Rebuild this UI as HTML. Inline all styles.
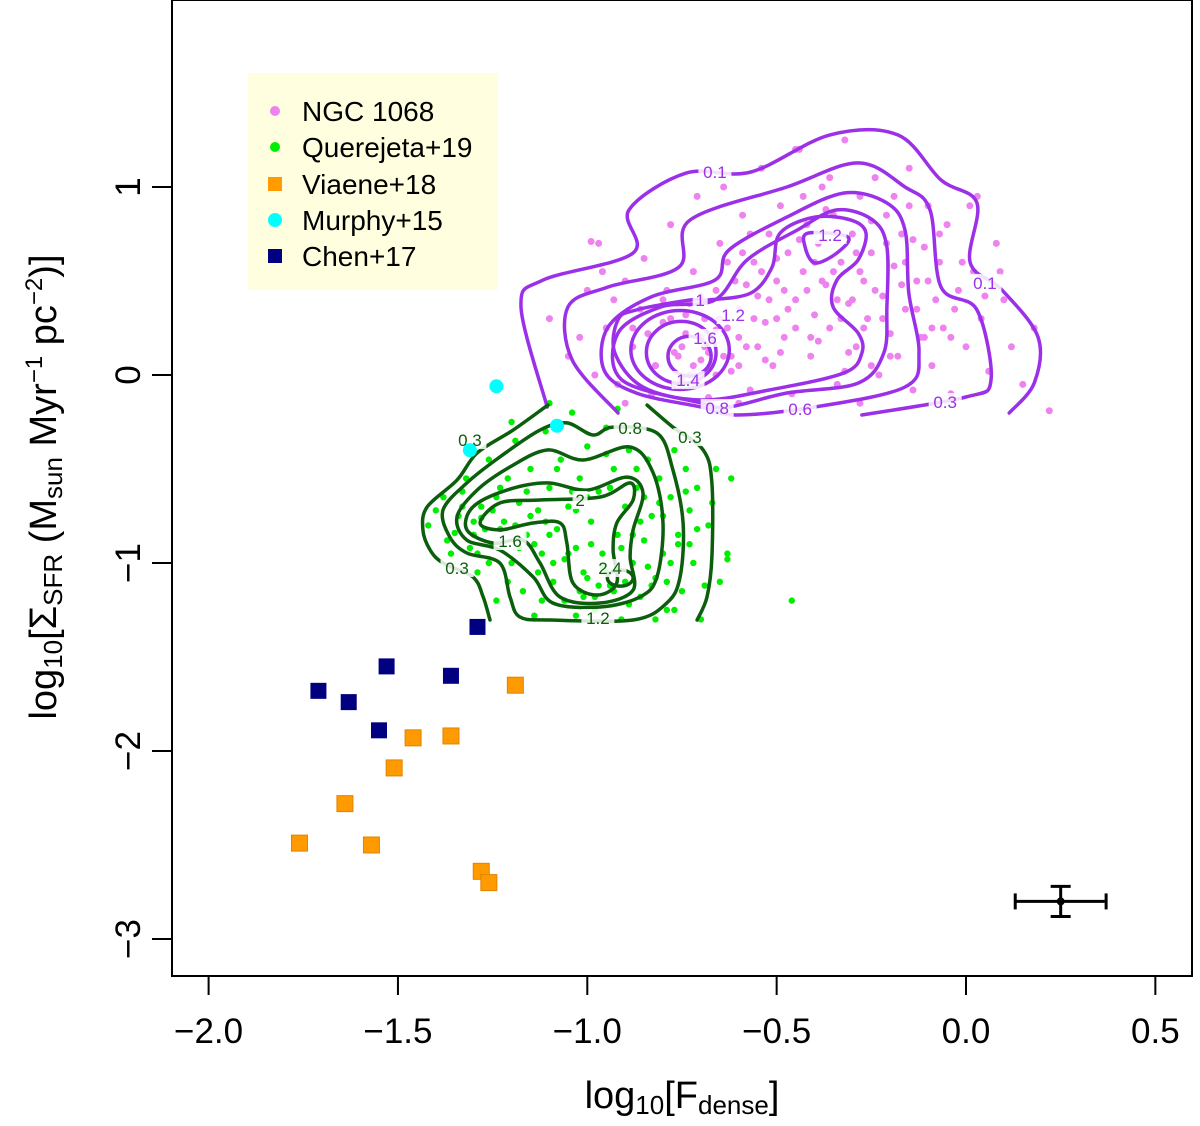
<!DOCTYPE html>
<html><head><meta charset="utf-8"><style>
html,body{margin:0;padding:0;background:#fff;}
svg text{font-family:"Liberation Sans",sans-serif;}
</style></head><body>
<svg id="chart" width="1200" height="1121" viewBox="0 0 1200 1121" xmlns="http://www.w3.org/2000/svg">
<rect x="0" y="0" width="1200" height="1121" fill="#fff"/>
<g id="points"></g>
<g id="contours"></g>
<g id="overlay"></g>
<rect x="172" y="0" width="1020" height="976" fill="none" stroke="#000" stroke-width="2"/>
<g id="axes"></g>
<g>
<rect x="248" y="73" width="250" height="217" fill="#ffffe0"/>
<g><circle cx="275" cy="111" r="5" fill="#ee82ee"/><text x="302" y="121" font-size="28">NGC 1068</text></g>
<g><circle cx="275" cy="147" r="5" fill="#00ee00"/><text x="302" y="157" font-size="28">Querejeta+19</text></g>
<g><rect x="268" y="177" width="14" height="14" fill="#ff9a00"/><text x="302" y="194" font-size="28">Viaene+18</text></g>
<g><circle cx="275" cy="220" r="7" fill="#00ffff"/><text x="302" y="230" font-size="28">Murphy+15</text></g>
<g><rect x="268" y="249" width="14" height="14" fill="#000080"/><text x="302" y="266" font-size="28">Chen+17</text></g>
</g>
<text x="682" y="1108" font-size="38" text-anchor="middle">log<tspan font-size="26" dy="6">10</tspan><tspan dy="-6">[F</tspan><tspan font-size="26" dy="6">dense</tspan><tspan dy="-6">]</tspan></text>
<text transform="translate(56,487) rotate(-90)" font-size="38" text-anchor="middle">log<tspan font-size="26" dy="6">10</tspan><tspan dy="-6">[Σ</tspan><tspan font-size="26" dy="6">SFR</tspan><tspan dy="-6"> (M</tspan><tspan font-size="26" dy="6">sun</tspan><tspan dy="-6"> Myr</tspan><tspan font-size="24" dy="-14">−1</tspan><tspan dy="14"> pc</tspan><tspan font-size="24" dy="-14">−2</tspan><tspan dy="14">)]</tspan></text>
</svg>
<script>
const NS="http://www.w3.org/2000/svg";
const xTicks=[-2.0,-1.5,-1.0,-0.5,0.0,0.5];
const xTickLabels=["−2.0","−1.5","−1.0","−0.5","0.0","0.5"];
const yTicks=[1,0,-1,-2,-3];
const yTickLabels=["1","0","−1","−2","−3"];
const ngcX=[-1.1,-1.05,-1.0,-0.98,-0.95,-0.92,-0.9,-0.88,-0.86,-0.85,-0.83,-0.82,-0.8,-0.79,-0.78,-0.77,-0.75,-0.74,-0.73,-0.72,-0.71,-0.7,-0.69,-0.68,-0.67,-0.66,-0.65,-0.64,-0.63,-0.62,-0.61,-0.6,-0.59,-0.58,-0.57,-0.56,-0.55,-0.54,-0.53,-0.52,-0.51,-0.5,-0.49,-0.48,-0.47,-0.46,-0.45,-0.44,-0.43,-0.42,-0.41,-0.4,-0.39,-0.38,-0.37,-0.36,-0.35,-0.34,-0.33,-0.32,-0.31,-0.3,-0.29,-0.28,-0.27,-0.26,-0.25,-0.24,-0.23,-0.22,-0.21,-0.2,-0.19,-0.18,-0.17,-0.16,-0.15,-0.14,-0.13,-0.12,-0.11,-0.1,-0.09,-0.08,-0.07,-0.06,-0.05,-0.04,-0.02,0.0,0.02,0.04,0.06,0.08,0.1,0.12,0.15,0.18,0.22,-0.97,-0.9,-0.28,-0.6,-0.45,-0.75,-0.7,-0.68,-0.65,-0.72,-0.6,-0.62,-0.55,-0.78,-0.66,-0.4,-0.38,-0.42,-0.35,-0.3,-0.5,-0.45,-0.52,-0.99,0.03,-0.25,-0.15,
-0.84,-0.8,-0.76,-0.74,-0.7,-0.66,-0.63,-0.58,-0.56,-0.53,-0.5,-0.47,-0.44,-0.41,-0.37,-0.34,-0.31,-0.28,-0.25,-0.22,-0.19,-0.16,-0.13,-0.1,-0.07,-0.04,-0.01,0.05,0.09,-0.82,-0.77,-0.73,-0.69,-0.64,-0.59,-0.54,-0.49,-0.43,-0.39,-0.33,-0.29,-0.24,-0.2,-0.14,-0.09,-0.03,0.01,-0.6,-0.57,-0.48,-0.36,-0.32,-0.27,-0.21,-0.17,-0.11,-0.88,-0.93,-1.02,-0.96];
const ngcY=[0.3,0.1,0.45,0.0,0.25,-0.05,0.5,0.15,0.35,0.62,-0.1,0.05,0.28,0.45,0.8,0.12,-0.02,0.22,0.38,0.55,0.95,0.08,0.3,-0.12,0.18,0.45,0.7,1.0,0.25,0.02,0.5,0.35,0.85,0.15,-0.08,0.6,0.42,1.1,0.28,0.75,0.05,0.5,0.9,0.2,0.65,-0.1,0.4,1.2,0.55,0.8,0.1,0.32,0.7,1.0,0.48,0.25,0.85,-0.05,0.6,1.25,0.38,0.75,0.15,0.95,0.5,0.3,0.65,1.05,0.0,0.42,0.85,0.22,0.58,0.1,0.75,0.35,1.1,-0.08,0.5,0.2,0.68,0.9,0.05,0.4,0.6,0.25,0.8,-0.1,0.45,0.15,0.55,0.3,0.02,0.7,0.4,0.15,-0.05,0.25,-0.19,0.7,-0.15,-0.15,-0.15,1.2,0.15,0.2,0.12,0.3,0.05,0.2,0.1,0.15,0.3,0.0,0.6,0.5,0.45,0.55,0.4,0.3,0.25,0.4,0.71,0.95,0.05,0.9,
0.22,0.4,0.1,0.32,0.42,0.24,0.6,0.48,0.3,0.08,0.62,0.35,0.72,0.2,0.88,0.4,0.12,0.55,0.82,0.3,0.95,0.6,0.35,0.5,0.75,0.2,0.6,0.42,0.55,0.05,-0.05,0.0,0.15,0.1,0.65,0.55,0.12,0.95,0.18,0.3,0.65,0.45,0.1,0.72,0.25,0.35,0.9,0.05,0.75,0.45,1.05,0.02,0.25,0.7,0.48,0.2,0.25,0.4,0.2,0.55];
const querX=[-1.42,-1.38,-1.36,-1.34,-1.32,-1.3,-1.29,-1.28,-1.26,-1.25,-1.24,-1.23,-1.22,-1.2,-1.19,-1.18,-1.17,-1.16,-1.15,-1.14,-1.13,-1.12,-1.11,-1.1,-1.09,-1.08,-1.07,-1.06,-1.05,-1.04,-1.03,-1.02,-1.01,-1.0,-0.99,-0.98,-0.97,-0.96,-0.95,-0.94,-0.93,-0.92,-0.91,-0.9,-0.89,-0.88,-0.87,-0.86,-0.85,-0.84,-0.83,-0.82,-0.81,-0.8,-0.79,-0.78,-0.77,-0.76,-0.75,-0.74,-0.73,-0.72,-0.71,-0.7,-0.68,-0.66,-0.65,-0.63,-0.62,-0.46,-1.1,-1.2,-0.92,-1.3,-1.27,-1.33,-1.25,-1.0,-0.97,-0.95,-1.02,-0.9,-1.05,-1.15,-1.1,-0.85,-0.8,-1.0,-0.63,
-1.4,-1.37,-1.33,-1.31,-1.28,-1.26,-1.23,-1.21,-1.18,-1.16,-1.13,-1.11,-1.08,-1.06,-1.03,-1.01,-0.99,-0.96,-0.94,-0.91,-0.89,-0.86,-0.84,-0.81,-0.79,-0.76,-0.74,-0.71,-0.69,-0.67,-1.35,-1.29,-1.24,-1.19,-1.14,-1.09,-1.04,-0.98,-0.93,-0.88,-0.83,-0.78,-0.73,-1.21,-1.12,-1.03,-0.95,-0.87,-0.82,-0.77];
const querY=[-0.8,-0.65,-0.95,-0.75,-0.55,-0.85,-1.05,-0.7,-0.45,-0.9,-1.2,-0.6,-0.78,-1.0,-0.35,-0.68,-1.15,-0.85,-0.5,-1.28,-0.72,-0.95,-0.3,-0.6,-1.1,-0.82,-0.45,-1.2,-0.7,-0.2,-0.92,-0.55,-1.05,-0.38,-0.78,-1.25,-0.62,-0.95,-0.28,-1.12,-0.5,-0.85,-1.3,-0.7,-0.4,-1.0,-0.6,-1.18,-0.88,-0.45,-0.75,-1.08,-0.55,-0.95,-1.25,-0.65,-0.4,-0.85,-1.15,-0.5,-0.72,-1.0,-0.6,-1.3,-0.8,-0.5,-1.1,-0.95,-0.55,-1.2,-0.15,-0.25,-0.18,-0.78,-0.82,-0.7,-0.72,-1.08,-1.12,-1.05,-1.15,-1.1,-0.95,-0.75,-0.85,-0.65,-0.75,-0.65,-0.98,
-0.72,-0.88,-0.62,-0.92,-0.76,-1.0,-0.82,-0.55,-0.92,-0.62,-1.05,-0.78,-0.5,-0.98,-0.72,-1.18,-0.9,-1.02,-0.6,-0.92,-1.22,-0.78,-1.02,-0.68,-1.1,-0.9,-0.62,-0.82,-1.12,-0.68,-0.84,-0.95,-0.65,-0.8,-0.9,-1.0,-0.62,-1.18,-1.15,-0.85,-1.12,-1.0,-0.9,-1.1,-1.2,-1.28,-0.42,-0.5,-1.3,-1.25];
const murphyX=[-1.24,-1.08,-1.31];
const murphyY=[-0.06,-0.27,-0.40];
const chenX=[-1.29,-1.53,-1.36,-1.71,-1.63,-1.55];
const chenY=[-1.34,-1.55,-1.60,-1.68,-1.74,-1.89];
const viaeneX=[-1.19,-1.46,-1.36,-1.51,-1.64,-1.76,-1.57,-1.28,-1.26];
const viaeneY=[-1.65,-1.93,-1.92,-2.09,-2.28,-2.49,-2.50,-2.64,-2.70];

// NGC 1068 density contours (data coords)
const ngc01X=[-1.106,-1.175,-1.117,-0.879,-0.890,-0.739,-0.568,-0.359,-0.180,-0.066,0.029,0.011,0.095,0.190,0.180,0.114];
const ngc01Y=[-0.170,0.362,0.505,0.649,0.878,1.074,1.080,1.277,1.277,1.037,0.915,0.598,0.452,0.202,-0.043,-0.202];
const ngc03X=[-0.919,-1.040,-1.051,-0.945,-0.758,-0.729,-0.473,-0.285,-0.161,-0.095,-0.066,0.029,0.066,0.0,-0.275];
const ngc03Y=[-0.202,0.080,0.362,0.468,0.574,0.824,1.000,1.128,1.000,0.878,0.468,0.346,-0.027,-0.117,-0.213];
const ngc06X=[-0.956,-0.945,-0.832,-0.663,-0.626,-0.473,-0.322,-0.209,-0.161,-0.151,-0.124,-0.161,-0.399,-0.605,-0.700,-0.871];
const ngc06Y=[0.027,0.255,0.415,0.505,0.665,0.840,0.968,0.915,0.771,0.436,0.117,-0.064,-0.170,-0.213,-0.170,-0.096];
const ngc08X=[-0.700,-0.908,-0.919,-0.805,-0.663,-0.578,-0.446,-0.341,-0.246,-0.209,-0.209,-0.217,-0.285,-0.473,-0.626];
const ngc08Y=[-0.149,-0.027,0.223,0.362,0.399,0.612,0.771,0.878,0.824,0.681,0.362,0.117,-0.043,-0.096,-0.170];
const ngc10X=[-0.681,-0.568,-0.512,-0.491,-0.399,-0.304,-0.264,-0.285,-0.341,-0.351,-0.285,-0.275,-0.322,-0.520,-0.700,-0.853,-0.927,-0.919,-0.871,-0.729];
const ngc10Y=[0.399,0.436,0.574,0.755,0.840,0.824,0.755,0.612,0.505,0.362,0.223,0.117,0.011,-0.080,-0.133,-0.064,0.117,0.293,0.346,0.399];
const ngcPeakX=[-0.417,-0.425,-0.399,-0.341,-0.312];
const ngcPeakY=[0.755,0.681,0.596,0.649,0.734];
const ngcCoreLevels=[1.2,1.4,1.6];
const ngcCoreCx=[-0.755,-0.752,-0.73];
const ngcCoreCy=[0.133,0.12,0.1];
const ngcCoreRx=[0.13,0.092,0.057];
const ngcCoreRy=[0.21,0.165,0.106];
// Querejeta+19 density contours
const q03aX=[-1.104,-1.196,-1.291,-1.344,-1.423,-1.434,-1.415,-1.381,-1.302,-1.275,-1.257];
const q03aY=[-0.160,-0.293,-0.415,-0.559,-0.702,-0.824,-0.931,-1.0,-1.074,-1.181,-1.303];
const q03bX=[-0.842,-0.774,-0.694,-0.671,-0.671,-0.684,-0.710];
const q03bY=[-0.160,-0.277,-0.399,-0.574,-0.968,-1.181,-1.303];
const q08X=[-0.985,-1.054,-1.125,-1.231,-1.318,-1.381,-1.363,-1.318,-1.231,-1.204,-1.178,-1.098,-0.879,-0.790,-0.755,-0.747,-0.774,-0.816,-0.932];
const q08Y=[-0.319,-0.255,-0.293,-0.436,-0.574,-0.718,-0.862,-0.947,-1.0,-1.181,-1.287,-1.303,-1.303,-1.213,-1.074,-0.787,-0.505,-0.309,-0.277];
const q12X=[-1.106,-1.011,-0.887,-0.826,-0.800,-0.816,-0.861,-0.966,-1.091,-1.143,-1.231,-1.318,-1.344,-1.291,-1.204];
const q12Y=[-0.399,-0.452,-0.383,-0.521,-0.787,-1.074,-1.181,-1.234,-1.213,-1.074,-0.931,-0.878,-0.755,-0.612,-0.489];
const q16X=[-1.106,-1.001,-0.895,-0.853,-0.879,-0.887,-0.879,-0.966,-1.072,-1.125,-1.170,-1.249,-1.318,-1.302,-1.212];
const q16Y=[-0.574,-0.612,-0.543,-0.628,-0.824,-0.968,-1.144,-1.213,-1.181,-1.0,-0.878,-0.894,-0.824,-0.702,-0.612];
const q20X=[-1.283,-1.231,-1.125,-0.966,-0.887,-0.879,-0.922,-0.932,-0.922,-0.974,-1.038,-1.054,-1.072,-1.143,-1.231];
const q20Y=[-0.787,-0.681,-0.665,-0.649,-0.574,-0.665,-0.787,-0.931,-1.106,-1.170,-1.106,-0.894,-0.787,-0.787,-0.824];
const q24Cx=[-0.913], q24Cy=[-1.080], q24Rx=[0.034], q24Ry=[0.043];
// contour labels
const ngcLabelText=["0.1","0.1","0.3","0.6","0.8","1","1.2","1.6","1.4","1.2"];
const ngcLabelX=[-0.663,0.05,-0.055,-0.438,-0.657,-0.702,-0.615,-0.689,-0.734,-0.359];
const ngcLabelY=[1.080,0.49,-0.144,-0.181,-0.176,0.399,0.319,0.197,-0.027,0.745];
const qLabelText=["0.3","0.8","0.3","2","1.6","2.4","0.3","1.2"];
const qLabelX=[-1.31,-0.887,-0.729,-1.019,-1.204,-0.940,-1.344,-0.972];
const qLabelY=[-0.346,-0.282,-0.33,-0.665,-0.883,-1.027,-1.027,-1.293];
const errX=[0.25], errY=[-2.8], errDx=[0.12], errDy=[0.08];

const X=v=>966+v*378.7;
const Y=v=>375-v*188;
const axes=document.getElementById('axes');
const pts=document.getElementById('points');
const cg=document.getElementById('contours');
const ov=document.getElementById('overlay');
function mk(tag,attrs,parent){const e=document.createElementNS(NS,tag);for(const k in attrs)e.setAttribute(k,attrs[k]);parent.appendChild(e);return e;}

xTicks.forEach((v,i)=>{
  const t=mk('line',{x1:X(v),x2:X(v),y1:976,y2:995,stroke:'#000','stroke-width':2},axes);
  
  
  const l=mk('text',{x:X(v),y:1043,'font-size':35,'text-anchor':'middle'},axes);
  l.textContent=xTickLabels[i];
  
  
});
yTicks.forEach((v,i)=>{
  const t=mk('line',{x1:152,x2:172,y1:Y(v),y2:Y(v),stroke:'#000','stroke-width':2},axes);
  
  
  const l=mk('text',{transform:`translate(140,${Y(v)}) rotate(-90)`,'font-size':35,'text-anchor':'middle'},axes);
  l.textContent=yTickLabels[i];
  
  
});

ngcX.forEach((v,i)=>{const c=mk('circle',{cx:X(v),cy:Y(ngcY[i]),r:3.5,fill:'#ee82ee'},pts);
  
  });
querX.forEach((v,i)=>{const c=mk('circle',{cx:X(v),cy:Y(querY[i]),r:3.2,fill:'#00ee00'},pts);
  
  });

function smoothPath(xs,ys,closed){
  const p=xs.map((v,i)=>[X(v),Y(ys[i])]);
  const n=p.length;
  const get=i=>closed?p[(i+n)%n]:p[Math.max(0,Math.min(n-1,i))];
  let d=`M${p[0][0].toFixed(1)},${p[0][1].toFixed(1)}`;
  const segs=closed?n:n-1;
  for(let i=0;i<segs;i++){
    const p0=get(i-1),p1=get(i),p2=get(i+1),p3=get(i+2);
    const c1=[p1[0]+(p2[0]-p0[0])/6,p1[1]+(p2[1]-p0[1])/6];
    const c2=[p2[0]-(p3[0]-p1[0])/6,p2[1]-(p3[1]-p1[1])/6];
    d+=`C${c1[0].toFixed(1)},${c1[1].toFixed(1)} ${c2[0].toFixed(1)},${c2[1].toFixed(1)} ${p2[0].toFixed(1)},${p2[1].toFixed(1)}`;
  }
  if(closed)d+='Z';
  return d;
}
function contourLine(xs,ys,closed,color,name){
  const e=mk('path',{d:smoothPath(xs,ys,closed),fill:'none',stroke:color,'stroke-width':3.5,'stroke-linecap':'round'},cg);
  
  
}
function contourEllipse(cx,cy,rx,ry,color,name){
  const e=mk('ellipse',{cx:X(cx),cy:Y(cy),rx:rx*378.7,ry:ry*188,fill:'none',stroke:color,'stroke-width':3.5},cg);
  
  
}
const PUR='#9b30e8', GRN='#0b5e0b';
contourLine(ngc01X,ngc01Y,false,PUR,'ngc-contour-0.1');
contourLine(ngc03X,ngc03Y,false,PUR,'ngc-contour-0.3');
contourLine(ngc06X,ngc06Y,true,PUR,'ngc-contour-0.6');
contourLine(ngc08X,ngc08Y,true,PUR,'ngc-contour-0.8');
contourLine(ngc10X,ngc10Y,true,PUR,'ngc-contour-1');
contourLine(ngcPeakX,ngcPeakY,true,PUR,'ngc-contour-peak-1.2');
ngcCoreLevels.forEach((l,i)=>contourEllipse(ngcCoreCx[i],ngcCoreCy[i],ngcCoreRx[i],ngcCoreRy[i],PUR,'ngc-contour-core'));
contourLine(q03aX,q03aY,false,GRN,'querejeta-contour-0.3-left');
contourLine(q03bX,q03bY,false,GRN,'querejeta-contour-0.3-right');
contourLine(q08X,q08Y,true,GRN,'querejeta-contour-0.8');
contourLine(q12X,q12Y,true,GRN,'querejeta-contour-1.2');
contourLine(q16X,q16Y,true,GRN,'querejeta-contour-1.6');
contourLine(q20X,q20Y,true,GRN,'querejeta-contour-2');
contourEllipse(q24Cx[0],q24Cy[0],q24Rx[0],q24Ry[0],GRN,'querejeta-contour-2.4');

function labels(txt,xs,ys,color){
  txt.forEach((s,i)=>{
    const lx=X(xs[i]), ly=Y(ys[i]);
    const w=s.length*9+6;
    mk('rect',{x:lx-w/2,y:ly-9,width:w,height:18,fill:'#fff','fill-opacity':0.85},cg);
    const t=mk('text',{x:lx,y:ly+6,'font-size':17,'text-anchor':'middle',fill:color},cg);
    t.textContent=s;
    
    
  });
}
labels(ngcLabelText,ngcLabelX,ngcLabelY,PUR);
labels(qLabelText,qLabelX,qLabelY,GRN);

murphyX.forEach((v,i)=>{const c=mk('circle',{cx:X(v),cy:Y(murphyY[i]),r:7,fill:'#00ffff'},ov);
  
  });
chenX.forEach((v,i)=>{const c=mk('rect',{x:X(v)-8,y:Y(chenY[i])-8,width:16,height:16,fill:'#000080'},ov);
  
  });
viaeneX.forEach((v,i)=>{const c=mk('rect',{x:X(v)-8,y:Y(viaeneY[i])-8,width:16,height:16,fill:'#ff9a00',stroke:'#e08400','stroke-width':1},ov);
  
  });
errX.forEach((v,i)=>{
  const g=mk('g',{},ov);
  
  
  const cx=X(v), cy=Y(errY[i]), dx=errDx[i]*378.7, dy=errDy[i]*188;
  mk('line',{x1:cx-dx,x2:cx+dx,y1:cy,y2:cy,stroke:'#000','stroke-width':3},g);
  mk('line',{x1:cx,x2:cx,y1:cy-dy,y2:cy+dy,stroke:'#000','stroke-width':3},g);
  mk('line',{x1:cx-dx,x2:cx-dx,y1:cy-8,y2:cy+8,stroke:'#000','stroke-width':3},g);
  mk('line',{x1:cx+dx,x2:cx+dx,y1:cy-8,y2:cy+8,stroke:'#000','stroke-width':3},g);
  mk('line',{x1:cx-10,x2:cx+10,y1:cy-dy,y2:cy-dy,stroke:'#000','stroke-width':3},g);
  mk('line',{x1:cx-10,x2:cx+10,y1:cy+dy,y2:cy+dy,stroke:'#000','stroke-width':3},g);
  mk('circle',{cx:cx,cy:cy,r:4,fill:'#000'},g);
});
</script>
</body></html>
